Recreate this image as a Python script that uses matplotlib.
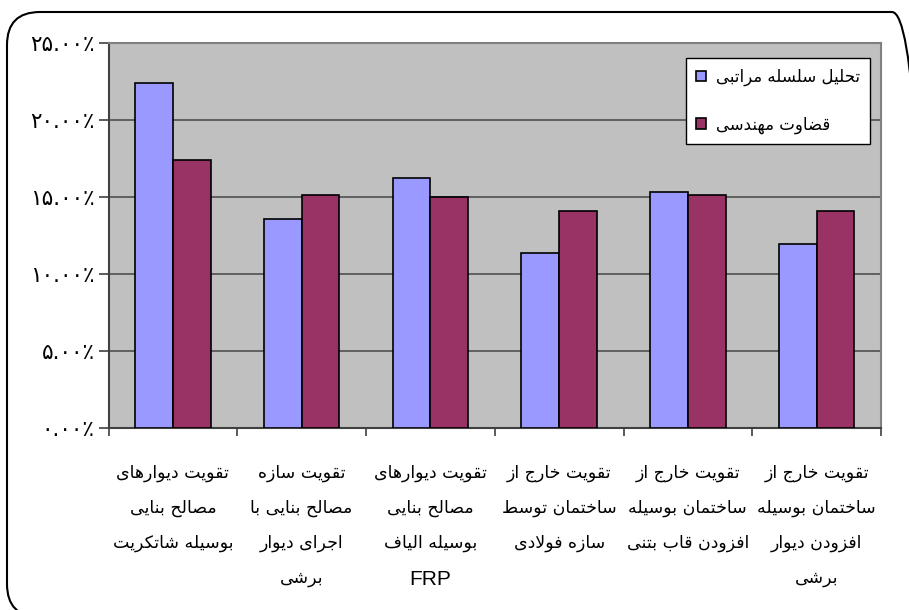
import matplotlib
matplotlib.use("Agg")
import matplotlib.pyplot as plt
from matplotlib.patches import FancyBboxPatch
import numpy as np

plt.rcParams['font.family'] = ['DejaVu Sans']

categories = [
    "تقویت دیوارهای\nمصالح بنایی\nبوسیله شاتکریت",
    "تقویت سازه\nمصالح بنایی با\nاجرای دیوار\nبرشی",
    "تقویت دیوارهای\nمصالح بنایی\nبوسیله الیاف\nFRP",
    "تقویت خارج از\nساختمان توسط\nسازه فولادی",
    "تقویت خارج از\nساختمان بوسیله\nافزودن قاب بتنی",
    "تقویت خارج از\nساختمان بوسیله\nافزودن دیوار\nبرشی",
]
series_names = ["تحلیل سلسله مراتبی", "قضاوت مهندسی"]
ahp = [22.36, 13.53, 16.23, 11.36, 15.31, 11.91]
expert = [17.37, 15.13, 14.98, 14.07, 15.11, 14.07]
y_ticks = [0, 5, 10, 15, 20, 25]
y_tick_labels = ["۰.۰۰٪", "۵.۰۰٪", "۱۰.۰۰٪", "۱۵.۰۰٪", "۲۰.۰۰٪", "۲۵.۰۰٪"]

# simple arabic/persian shaping (matplotlib has no shaping / bidi)
FORMS = {
    'ا': ('\ufe8d', '\ufe8e'), 'د': ('\ufea9', '\ufeaa'), 'ر': ('\ufead', '\ufeae'),
    'ز': ('\ufeaf', '\ufeb0'), 'و': ('\ufeed', '\ufeee'),
    'ب': ('\ufe8f', '\ufe90', '\ufe91', '\ufe92'), 'ت': ('\ufe95', '\ufe96', '\ufe97', '\ufe98'),
    'ج': ('\ufe9d', '\ufe9e', '\ufe9f', '\ufea0'), 'ح': ('\ufea1', '\ufea2', '\ufea3', '\ufea4'),
    'خ': ('\ufea5', '\ufea6', '\ufea7', '\ufea8'), 'س': ('\ufeb1', '\ufeb2', '\ufeb3', '\ufeb4'),
    'ش': ('\ufeb5', '\ufeb6', '\ufeb7', '\ufeb8'), 'ص': ('\ufeb9', '\ufeba', '\ufebb', '\ufebc'),
    'ض': ('\ufebd', '\ufebe', '\ufebf', '\ufec0'), 'ط': ('\ufec1', '\ufec2', '\ufec3', '\ufec4'),
    'ف': ('\ufed1', '\ufed2', '\ufed3', '\ufed4'), 'ق': ('\ufed5', '\ufed6', '\ufed7', '\ufed8'),
    'ل': ('\ufedd', '\ufede', '\ufedf', '\ufee0'), 'م': ('\ufee1', '\ufee2', '\ufee3', '\ufee4'),
    'ن': ('\ufee5', '\ufee6', '\ufee7', '\ufee8'), 'ه': ('\ufee9', '\ufeea', '\ufeeb', '\ufeec'),
    'ک': ('\ufb8e', '\ufb8f', '\ufb90', '\ufb91'), 'ی': ('\ufbfc', '\ufbfd', '\ufbfe', '\ufbff'),
}


def shape_line(s):
    if not any(c in FORMS for c in s):
        return s
    out = []
    i = 0
    n = len(s)
    while i < n:
        c = s[i]
        if c not in FORMS:
            out.append(c)
            i += 1
            continue
        prev = s[i - 1] if i > 0 else None
        link_prev = prev is not None and prev in FORMS and len(FORMS[prev]) == 4
        if c == 'ل' and i + 1 < n and s[i + 1] == 'ا':
            out.append('\ufefc' if link_prev else '\ufefb')
            i += 2
            continue
        nxt = s[i + 1] if i + 1 < n else None
        f = FORMS[c]
        link_next = len(f) == 4 and nxt is not None and nxt in FORMS
        if link_prev and link_next:
            g = f[3]
        elif link_prev:
            g = f[1]
        elif link_next:
            g = f[2]
        else:
            g = f[0]
        out.append(g)
        i += 1
    return ''.join(reversed(out))


def shape(text):
    return '\n'.join(shape_line(l) for l in text.split('\n'))


fig = plt.figure(figsize=(9.09, 6.10), dpi=100)
ax = fig.add_axes([108.5 / 909, 1 - 427.7 / 610, 772.5 / 909, 385 / 610])
ax.set_facecolor('#C0C0C0')

x = np.arange(len(categories))
w = 0.293
ax.bar(x - w / 2, ahp, w, color='#9999FF', edgecolor='black', linewidth=1.2,
       label=shape(series_names[0]), zorder=3)
ax.bar(x + w / 2, expert, w, color='#993366', edgecolor='black', linewidth=1.2,
       label=shape(series_names[1]), zorder=3)

ax.set_xlim(-0.5, len(categories) - 0.5)
ax.set_ylim(0, 25)
ax.set_yticks(y_ticks)
ax.set_yticklabels(y_tick_labels, fontsize=15.5)
ax.yaxis.grid(True, color='#505050', linewidth=1.2, zorder=1)

# latin-only lines ("FRP") are drawn larger, like in the original
tick_texts = []
latin_lines = []
for i, c in enumerate(categories):
    lines = c.split('\n')
    if lines[-1].isascii():
        latin_lines.append((i, len(lines) - 1, lines[-1]))
        lines = lines[:-1]
    tick_texts.append(shape('\n'.join(lines)))

ax.set_xticks(x)
ax.set_xticklabels(tick_texts, fontsize=12.5, linespacing=2.2)
ax.set_xticks(np.arange(len(categories) + 1) - 0.5, minor=True)
ax.tick_params(axis='x', which='major', length=0, pad=26)
ax.tick_params(axis='x', which='minor', length=6, width=1.2, color='#404040')
ax.tick_params(axis='y', length=7, width=1.2, color='#404040', pad=3)

for i, row, txt in latin_lines:
    ax.annotate(txt, xy=(i, 0), xycoords=('data', 'axes fraction'),
                xytext=(0, -(41 + 37 * row) * 0.72), textcoords='offset points',
                ha='center', va='center', fontsize=15, family='Liberation Sans')

for side in ['left', 'bottom']:
    ax.spines[side].set_color('#404040')
    ax.spines[side].set_linewidth(1.5)
for side in ['top', 'right']:
    ax.spines[side].set_color('#808080')
    ax.spines[side].set_linewidth(1.5)

leg = ax.legend(loc='upper right', bbox_to_anchor=(0.9858, 0.9603), borderaxespad=0,
                fontsize=12, labelspacing=1.75, borderpad=0.6,
                handlelength=0.6, handleheight=0.6, handletextpad=0.6,
                fancybox=False, framealpha=1, edgecolor='black')
leg.get_frame().set_linewidth(1.0)

frame = FancyBboxPatch((0.07, -0.07), 9.18, 6.05, boxstyle='round,pad=0,rounding_size=0.33',
                       transform=fig.dpi_scale_trans, facecolor='none', edgecolor='black',
                       linewidth=1.5, clip_on=False)
fig.add_artist(frame)

fig.savefig('out.png', dpi=100)
